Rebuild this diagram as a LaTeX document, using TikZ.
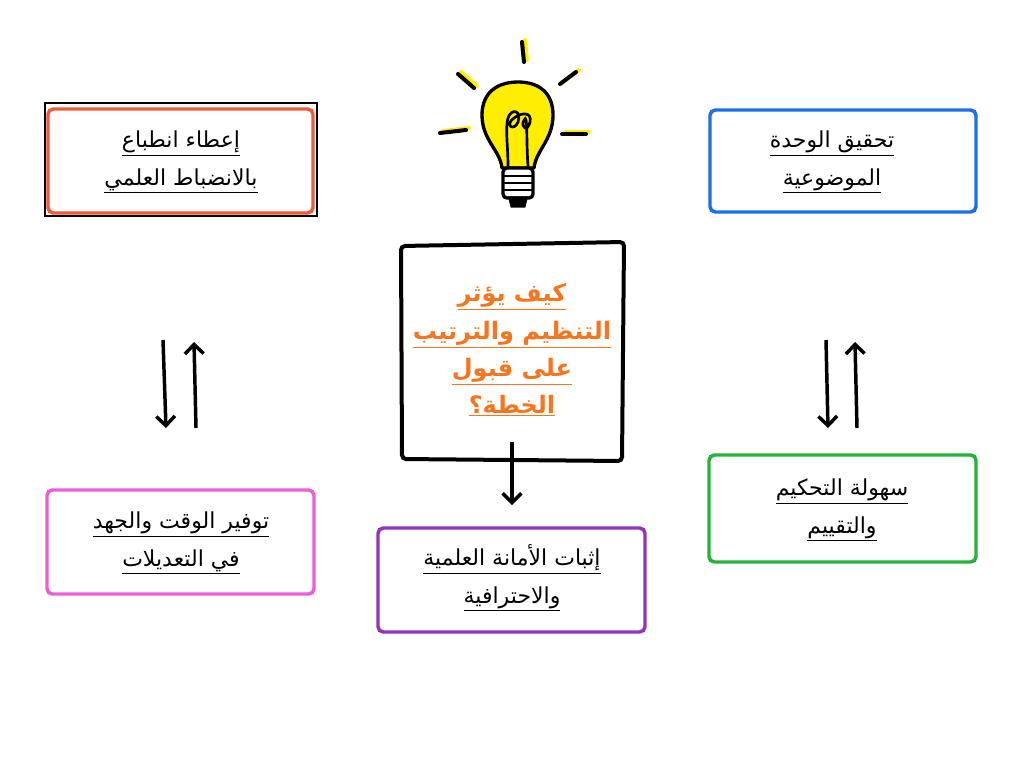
\documentclass[tikz,border=0pt]{standalone}
\usepackage{fontspec}
\setmainfont{DejaVu Sans}
\newfontfamily\arabicfont[Script=Arabic]{DejaVu Sans}
\TeXXeTstate=1
\definecolor{cred}{HTML}{EE5A3A}
\definecolor{cblue}{HTML}{1A6FE8}
\definecolor{cgreen}{HTML}{22B33A}
\definecolor{cpink}{HTML}{EE5CD9}
\definecolor{cpurple}{HTML}{8E36BE}
\definecolor{corange}{HTML}{F7751E}
\definecolor{cyel}{HTML}{FFEE00}
\newcommand{\ar}[1]{\underline{\beginR #1\endR}}
\tikzset{x=0.75pt,y=-0.75pt,
 boxl/.style={line width=2.6pt,rounded corners=4pt},
 txt/.style={font=\arabicfont\fontsize{16.5}{28}\selectfont,align=center},
 arr/.style={line width=2.6pt,->,>={Straight Barb[length=7pt,width=14pt]}}}
\usetikzlibrary{arrows.meta}
\begin{document}
\begin{tikzpicture}
\useasboundingbox (0,0) rectangle (1024,768);
% boxes
\draw[black,line width=0.8pt] (45,103) rectangle (317,216);
\draw[boxl,cred] (48,109) rectangle (313,213);
\node[txt] (tl) at (181,162) {\ar{إعطاء انطباع}\\ \ar{بالانضباط العلمي}};
\draw[boxl,cblue] (710,110) rectangle (976,212);
\node[txt] (tr) at (832,162) {\ar{تحقيق الوحدة}\\ \ar{الموضوعية}};
\draw[black,line width=3pt,rounded corners=3pt] (401,246) -- (624,242) -- (622,461) -- (402,459) -- cycle;
\node[txt,text=corange,font=\arabicfont\bfseries\fontsize{18}{28}\selectfont] (c) at (512,350) {\ar{كيف يؤثر}\\ \ar{التنظيم والترتيب}\\ \ar{على قبول}\\ \ar{الخطة؟}};
\draw[boxl,cpink] (47,490) rectangle (314,594);
\node[txt] (bl) at (181,543) {\ar{توفير الوقت والجهد}\\ \ar{في التعديلات}};
\draw[boxl,cpurple] (378,528) rectangle (645,632);
\node[txt] (bc) at (512,578) {\ar{إثبات الأمانة العلمية}\\ \ar{والاحترافية}};
\draw[boxl,cgreen] (709,455) rectangle (976,562);
\node[txt] (br) at (842,510) {\ar{سهولة التحكيم}\\ \ar{والتقييم}};
% arrows
\coordinate (a1) at (163,340); \coordinate (a2) at (166,428);
\coordinate (a3) at (196,428); \coordinate (a4) at (194,342);
\coordinate (b1) at (826,340); \coordinate (b2) at (828,428);
\coordinate (b3) at (857,428); \coordinate (b4) at (855,342);
\coordinate (c1) at (512,442); \coordinate (c2) at (512,505);
\draw[arr] (a1) -- (a2); \draw[arr] (a3) -- (a4);
\draw[arr] (b1) -- (b2); \draw[arr] (b3) -- (b4);
\draw[arr] (c1) -- (c2);
% bulb
\draw[fill=cyel,line width=2.5pt,line join=round] (502,168) .. controls (500,150) and (482,140) .. (482,115)
 .. controls (482,92) and (498,82) .. (518,82) .. controls (538,82) and (553,92) .. (553,115)
 .. controls (553,140) and (536,150) .. (534,168) -- cycle;
\draw[line width=2pt] (508,166) .. controls (508,145) and (505,128) .. (508,118) .. controls (511,108) and (522,110) .. (518,122)
 .. controls (514,132) and (504,125) .. (514,118) .. controls (522,112) and (532,112) .. (530,122) .. controls (528,132) and (520,128) .. (524,120) .. controls (528,112) and (526,140) .. (528,166);
\draw[line width=2.5pt,rounded corners=3pt,fill=white] (503,168) rectangle (533,198);
\foreach \y in {176,183,190} \draw[line width=2pt] (503,\y) -- (533,\y);
\draw[line width=2.5pt,fill=black] (510,198) -- (526,198) -- (524,206) -- (512,206) -- cycle;
% rays
\foreach \p/\q in {{522,42}/{524,62},{560,84}/{576,72},{562,134}/{586,134},{440,133}/{466,130},{458,74}/{474,88}} {
 \draw[cyel,line width=3pt,line cap=round,shift={(3,-2)}] (\p) -- (\q);
 \draw[black,line width=3pt,line cap=round] (\p) -- (\q);}
\end{tikzpicture}
\end{document}
